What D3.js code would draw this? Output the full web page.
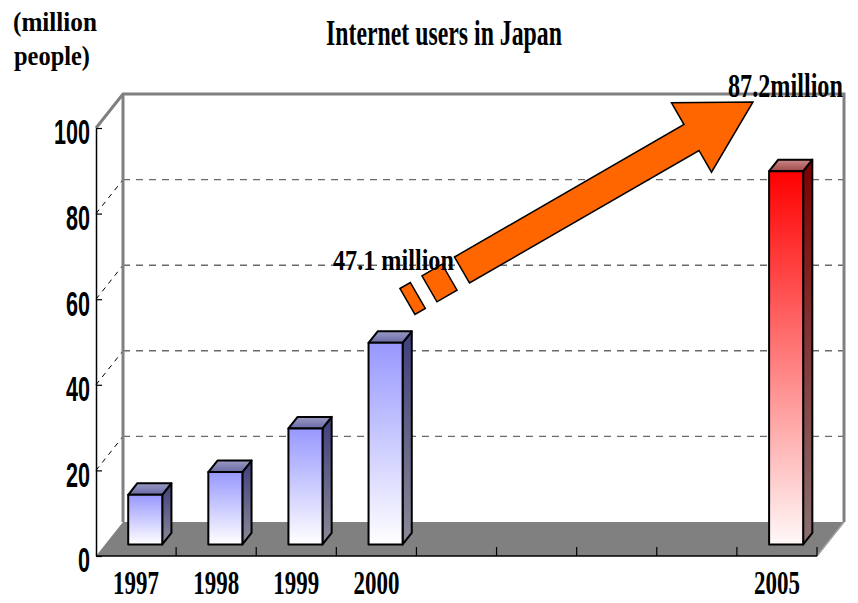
<!DOCTYPE html>
<html>
<head>
<meta charset="utf-8">
<script src="https://cdn.jsdelivr.net/npm/d3@7"></script>
<style>
  html, body { margin: 0; padding: 0; background: #ffffff; }
  svg { display: block; }
</style>
</head>
<body>
<svg id="chart" width="858" height="603"></svg>
<script>
// ---------- data ----------
const categories = ["1997", "1998", "1999", "2000", "2001", "2002", "2003", "2004", "2005"];
const users = [11.6, 16.9, 27.1, 47.1, null, null, null, null, 87.2];   // million people
const xTickLabels = ["1997", "1998", "1999", "2000", "", "", "", "", "2005"];
const yTicks = [0, 20, 40, 60, 80, 100];
const highlighted = ["2005"];
const titleText = "Internet users in Japan";
const unitLines = ["(million", "people)"];
const startLabel = "47.1 million";
const endLabel = "87.2million";

// ---------- layout ----------
const svg = d3.select("#chart");
const front = { left: 96, right: 817, bottom: 556, top: 128 };
const depth = { dx: 27, dy: -34 };
const barFront = 0.34, barDepth = 0.34;

const y = d3.scaleLinear().domain([0, 100]).range([front.bottom, front.top]);
const x = d3.scaleBand().domain(categories).range([front.left, front.right])
  .paddingInner(0.575).paddingOuter(0.2875);

const defs = svg.append("defs");
function vGrad(id, stops, x2 = 0, y2 = 1) {
  const g = defs.append("linearGradient").attr("id", id)
    .attr("x1", 0).attr("y1", 0).attr("x2", x2).attr("y2", y2);
  stops.forEach(s => g.append("stop").attr("offset", s[0]).attr("stop-color", s[1]));
}
vGrad("blueFront", [[0, "#9898ff"], [1, "#ffffff"]]);
vGrad("blueSide", [[0, "#3f3f7c"], [1, "#8a8a96"]]);
vGrad("blueTop", [[0, "#9a9ac4"], [1, "#6a6aa6"]]);
vGrad("redFront", [[0, "#ff0000"], [1, "#fff8f8"]]);
vGrad("redSide", [[0, "#7a0000"], [1, "#8a7070"]]);
vGrad("redTop", [[0, "#cc8888"], [1, "#a04848"]]);

const gray = "#808080";
const yBack = v => y(v) + depth.dy;
const xBackL = front.left + depth.dx, xBackR = front.right + depth.dx;

// floor
svg.append("polygon")
  .attr("points", [[front.left, y(0)], [front.right, y(0)], [xBackR, yBack(0)], [xBackL, yBack(0)]].join(" "))
  .attr("fill", gray);

// back wall gridlines
svg.append("g").selectAll("line").data(yTicks.filter(v => v > 0 && v < 100)).join("line")
  .attr("x1", xBackL).attr("x2", xBackR)
  .attr("y1", d => yBack(d)).attr("y2", d => yBack(d))
  .attr("stroke", "#6a6a6a").attr("stroke-width", 1.4).attr("stroke-dasharray", "7,6");

// side wall diagonals
svg.append("g").selectAll("line").data(yTicks.filter(v => v > 0 && v < 100)).join("line")
  .attr("x1", front.left).attr("y1", d => y(d))
  .attr("x2", xBackL).attr("y2", d => yBack(d))
  .attr("stroke", "#000").attr("stroke-width", 1).attr("stroke-dasharray", "5,5");

// back wall frame
svg.append("path")
  .attr("d", `M${front.left},${y(100)} L${xBackL},${yBack(100)} L${xBackR},${yBack(100)} L${xBackR},${yBack(0)}`)
  .attr("fill", "none").attr("stroke", gray).attr("stroke-width", 3);
svg.append("line")
  .attr("x1", xBackL).attr("x2", xBackL).attr("y1", yBack(100)).attr("y2", yBack(0))
  .attr("stroke", gray).attr("stroke-width", 3);
// floor right edge
svg.append("line")
  .attr("x1", front.right).attr("y1", y(0)).attr("x2", xBackR).attr("y2", yBack(0))
  .attr("stroke", "#a0a0a0").attr("stroke-width", 1.5);

// y axis
const yAxis = d3.axisLeft(y).tickValues(yTicks).tickSizeInner(-6).tickSizeOuter(0).tickPadding(6);
const gy = svg.append("g").attr("transform", `translate(${front.left},0)`).call(yAxis);
gy.select(".domain").attr("stroke", "#000").attr("stroke-width", 1.5);
gy.selectAll(".tick line").attr("stroke", "#000").attr("stroke-width", 1.2);
gy.selectAll(".tick text")
  .attr("x", 0).attr("dy", "0.36em")
  .attr("transform", "translate(-6,3) scale(0.6,1)")
  .attr("font-family", "Liberation Sans, Arial, sans-serif")
  .attr("font-weight", "bold").attr("font-size", 36).attr("fill", "#000");

// x axis front edge and ticks
svg.append("line").attr("x1", front.left).attr("x2", front.right)
  .attr("y1", y(0)).attr("y2", y(0)).attr("stroke", "#000").attr("stroke-width", 1.5);
svg.append("g").selectAll("line").data(categories).join("line")
  .attr("x1", d => x(d) - x.step() * x.paddingOuter() + x.step())
  .attr("x2", d => x(d) - x.step() * x.paddingOuter() + x.step())
  .attr("y1", y(0)).attr("y2", y(0) - 9)
  .attr("stroke", "#000").attr("stroke-width", 1.2);

function fitText(sel, tx, ty, width, anchor) {
  sel.attr("x", 0).attr("y", 0).attr("text-anchor", anchor);
  const w = sel.node().getComputedTextLength();
  sel.attr("transform", `translate(${tx},${ty}) scale(${width / w},1)`);
}

// x labels
svg.append("g").selectAll("text").data(categories.map((c, i) => ({ c, label: xTickLabels[i] })).filter(d => d.label))
  .join("text")
  .text(d => d.label)
  .attr("font-family", "Liberation Serif, Times New Roman, serif")
  .attr("font-weight", "bold").attr("font-size", 34).attr("fill", "#000")
  .each(function (d) { fitText(d3.select(this), x(d.c) + x.bandwidth() / 2, 594, 46, "middle"); });

// bars
const bfx = depth.dx * barFront, bfy = depth.dy * barFront;
const bdx = depth.dx * barDepth, bdy = depth.dy * barDepth;
const barData = categories.map((c, i) => ({ c, v: users[i] })).filter(d => d.v != null);
const gb = svg.append("g");
barData.forEach(d => {
  const hi = highlighted.includes(d.c);
  const x0 = x(d.c) + bfx, x1 = x0 + x.bandwidth();
  const yt = y(d.v) + bfy, yb = y(0) + bfy;
  const g = gb.append("g").attr("stroke", "#000").attr("stroke-width", 2).attr("stroke-linejoin", "round");
  g.append("polygon").attr("points", [[x1, yt], [x1 + bdx, yt + bdy], [x1 + bdx, yb + bdy], [x1, yb]].join(" "))
    .attr("fill", `url(#${hi ? "redSide" : "blueSide"})`);
  g.append("polygon").attr("points", [[x0, yt], [x0 + bdx, yt + bdy], [x1 + bdx, yt + bdy], [x1, yt]].join(" "))
    .attr("fill", `url(#${hi ? "redTop" : "blueTop"})`);
  g.append("rect").attr("x", x0).attr("y", yt).attr("width", x1 - x0).attr("height", yb - yt)
    .attr("fill", `url(#${hi ? "redFront" : "blueFront"})`);
});

// growth arrow annotation
const T = [462, 270], ang = 30 * Math.PI / 180;
const u = [Math.cos(ang), -Math.sin(ang)], vv = [Math.sin(ang), Math.cos(ang)];
const P = (s, t) => [T[0] + u[0] * s + vv[0] * t, T[1] + u[1] * s + vv[1] * t];
const L = 265, hw = 15, hh = 40, hl = 71;
const arrowG = svg.append("g").attr("fill", "#ff6600").attr("stroke", "#000").attr("stroke-width", 1.5).attr("stroke-linejoin", "miter");
arrowG.append("polygon").attr("points",
  [P(0, -hw), P(L, -hw), P(L, -hh), P(L + hl, 0), P(L, hh), P(L, hw), P(0, hw)].join(" "));
[[-37.6, -14.4], [-63, -51]].forEach(([a, b]) => {
  arrowG.append("polygon").attr("points", [P(a, -hw), P(b, -hw), P(b, hw), P(a, hw)].join(" "));
});

// texts
const serif = "Liberation Serif, Times New Roman, serif";
fitText(svg.append("text").text(titleText).attr("font-family", serif).attr("font-weight", "bold")
  .attr("font-size", 35), 444, 45, 236, "middle");
fitText(svg.append("text").text(unitLines[0]).attr("font-family", serif).attr("font-weight", "bold")
  .attr("font-size", 28), 13, 31, 84, "start");
fitText(svg.append("text").text(unitLines[1]).attr("font-family", serif).attr("font-weight", "bold")
  .attr("font-size", 28), 14, 65, 76, "start");
fitText(svg.append("text").text(startLabel).attr("font-family", serif).attr("font-weight", "bold")
  .attr("font-size", 29), 333, 270, 121, "start");
fitText(svg.append("text").text(endLabel).attr("font-family", serif).attr("font-weight", "bold")
  .attr("font-size", 33), 728, 97, 115, "start");
</script>
</body>
</html>
